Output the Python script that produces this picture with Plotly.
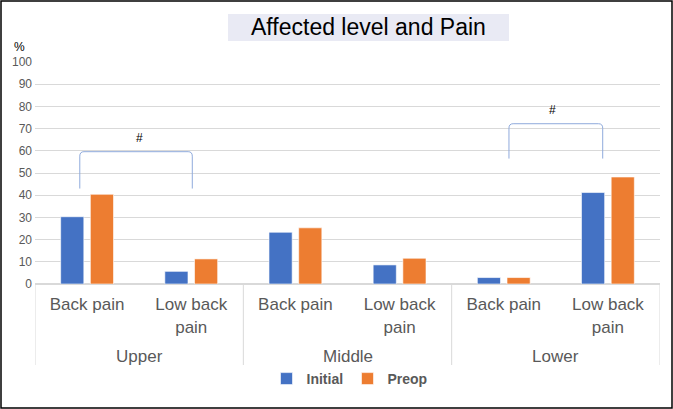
import plotly.graph_objects as go

# ---- data ----
levels = ["Upper", "Middle", "Lower"]
pain_types = ["Back pain", "Low back<br>pain", "Back pain", "Low back<br>pain", "Back pain", "Low back<br>pain"]
initial = [30.3, 5.7, 23.3, 8.6, 2.9, 41.2]
preop = [40.4, 11.3, 25.3, 11.6, 2.9, 48.2]
series_names = ["Initial", "Preop"]
title_text = "Affected level and Pain"
# significance brackets: (left category pos, right category pos, bottom y, top y)
brackets = [(-0.07, 1.01, 43, 59.6), (4.05, 4.95, 56.5, 72.2)]
bracket_labels = [(0.5, 65.6, "#"), (4.47, 78.4, "#")]

W, H = 673, 409
L, R, T, B = 35, 13, 62, 125
pw, ph = W - L - R, H - T - B
ncat = len(pain_types)
xpos = list(range(ncat))
per_group = ncat // len(levels)

fig = go.Figure()
fig.add_trace(go.Bar(x=xpos, y=initial, name=series_names[0],
                     marker=dict(color="#4472C4", line=dict(color="white", width=0.6))))
fig.add_trace(go.Bar(x=xpos, y=preop, name=series_names[1],
                     marker=dict(color="#ED7D31", line=dict(color="white", width=0.6))))


def px_x(px):
    return (px - L) / pw


def px_y(py):
    return (H - B - py) / ph


shapes = []
# outer frame
shapes.append(dict(type="rect", xref="paper", yref="paper",
                   x0=px_x(1), x1=px_x(672), y0=px_y(408), y1=px_y(1),
                   line=dict(color="black", width=1.5), layer="above"))
# title box
shapes.append(dict(type="rect", xref="paper", yref="paper",
                   x0=px_x(228), x1=px_x(509), y0=px_y(41), y1=px_y(14),
                   fillcolor="#E9EAF4", line=dict(width=0), layer="below"))
# group dividers
for g in range(len(levels) + 1):
    xd = g * per_group - 0.5
    shapes.append(dict(type="line", xref="x", yref="paper", x0=xd, x1=xd,
                       y0=0, y1=px_y(365), line=dict(color="#D9D9D9", width=1)))
# brackets
for (a, b, y0, y1) in brackets:
    dx = 0.04
    dy = 2.0
    path = (f"M {a},{y0} L {a},{y1 - dy} Q {a},{y1} {a + dx},{y1} "
            f"L {b - dx},{y1} Q {b},{y1} {b},{y1 - dy} L {b},{y0}")
    shapes.append(dict(type="path", xref="x", yref="y", path=path,
                       line=dict(color="#8FAADC", width=1)))

annotations = [
    dict(text=title_text, xref="paper", yref="paper", x=px_x(368.5), y=px_y(27.5),
         showarrow=False, font=dict(size=23, color="black"),
         xanchor="center", yanchor="middle"),
    dict(text="%", xref="paper", yref="paper", x=px_x(19), y=px_y(47),
         showarrow=False, font=dict(size=12, color="black"),
         xanchor="center", yanchor="middle"),
]
for (cx, cy, t) in bracket_labels:
    annotations.append(dict(text=t, xref="x", yref="y", x=cx, y=cy,
                            showarrow=False, font=dict(size=12, color="black"),
                            xanchor="center", yanchor="middle"))
for g, lev in enumerate(levels):
    annotations.append(dict(text=lev, xref="x", yref="paper",
                            x=g * per_group + (per_group - 1) / 2, y=px_y(356),
                            showarrow=False, font=dict(size=17, color="#595959"),
                            xanchor="center", yanchor="middle"))

fig.update_layout(
    width=W, height=H,
    margin=dict(l=L, r=R, t=T, b=B, autoexpand=False),
    paper_bgcolor="white", plot_bgcolor="white",
    font=dict(family="Liberation Sans, Arial", color="#595959"),
    barmode="group", bargap=0.43, bargroupgap=0.22,
    showlegend=True,
    legend=dict(orientation="h", x=0.5, xanchor="center", y=px_y(379), yanchor="middle",
                font=dict(size=14, color="#595959", weight="bold"),
                itemwidth=30, entrywidth=36, traceorder="normal"),
    shapes=shapes, annotations=annotations,
)
fig.update_xaxes(tickmode="array", tickvals=xpos, ticktext=pain_types,
                 range=[-0.5, ncat - 0.5],
                 tickfont=dict(size=17, color="#595959"), ticklabelstandoff=5,
                 showline=True, linecolor="#D9D9D9", linewidth=1, ticks="",
                 showgrid=False, zeroline=False)
fig.update_yaxes(range=[0, 100], dtick=10, showgrid=True, gridcolor="#D9D9D9", gridwidth=1,
                 zeroline=True, zerolinecolor="#D9D9D9", tickfont=dict(size=12, color="#595959"),
                 ticks="", ticklabelstandoff=2)

fig.write_html("out.html", config={"displayModeBar": False},
               post_script="document.body.style.margin='0';")
